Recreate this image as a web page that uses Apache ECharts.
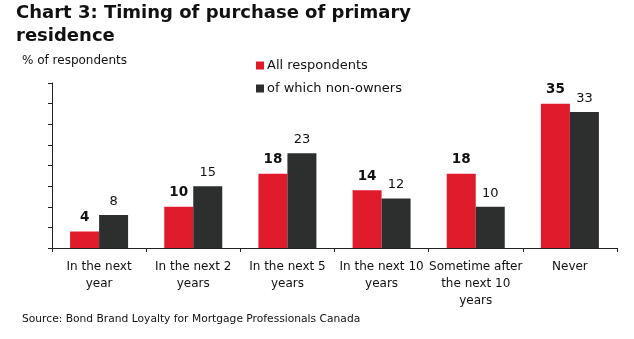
<!DOCTYPE html>
<html>
<head>
<meta charset="utf-8">
<script src="https://cdn.jsdelivr.net/npm/echarts@6/dist/echarts.min.js"></script>
<style>
html,body{margin:0;padding:0;background:#fff;}
#chart{width:634px;height:339px;}
</style>
</head>
<body>
<div id="chart"></div>
<script>
const categories = ["In the next\nyear", "In the next 2\nyears", "In the next 5\nyears", "In the next 10\nyears", "Sometime after\nthe next 10\nyears", "Never"];
const allRespondents = [4, 10, 18, 14, 18, 35];
const nonOwners = [8, 15, 23, 12, 10, 33];
const seriesNames = ["All respondents", "of which non-owners"];

const FONT = "DejaVu Sans";
const chart = echarts.init(document.getElementById('chart'), null, {renderer: 'canvas'});
chart.setOption({
  animation: false,
  backgroundColor: '#fff',
  title: {
    text: "Chart 3: Timing of purchase of primary\nresidence",
    left: 16, top: 2, padding: 0,
    textStyle: {fontFamily: FONT, fontWeight: 'bold', fontSize: 18, lineHeight: 23, color: '#111'}
  },
  legend: {
    orient: 'vertical',
    left: 256, top: 58,
    itemWidth: 8, itemHeight: 8, itemGap: 8,
    icon: 'rect',
    padding: 0,
    textStyle: {fontFamily: FONT, fontSize: 13, lineHeight: 15, color: '#111', padding: [0, 0, 0, -2]},
    data: seriesNames
  },
  graphic: [
    {type: 'text', left: 22, top: 55, style: {text: '% of respondents', font: '12px "DejaVu Sans"', fill: '#111'}},
    {type: 'text', left: 22, top: 314, style: {text: 'Source: Bond Brand Loyalty for Mortgage Professionals Canada', font: '10.7px "DejaVu Sans"', fill: '#111'}}
  ],
  grid: {left: 52, right: 17, top: 83, bottom: 91, containLabel: false},
  xAxis: {
    type: 'category',
    data: categories,
    axisLine: {lineStyle: {color: '#222', width: 1}},
    axisTick: {show: true, length: 4, lineStyle: {color: '#222'}},
    axisLabel: {fontFamily: FONT, fontSize: 12, lineHeight: 17, color: '#111', margin: 10, interval: 0}
  },
  yAxis: {
    type: 'value', min: 0, max: 40, interval: 5,
    axisLine: {show: true, lineStyle: {color: '#222', width: 1}},
    axisTick: {show: true, length: 4, lineStyle: {color: '#222'}},
    axisLabel: {show: false},
    splitLine: {show: false}
  },
  series: [
    {
      name: seriesNames[0], type: 'bar', data: allRespondents,
      barWidth: 29, barGap: '0%',
      itemStyle: {color: '#E01B2B'},
      label: {show: true, position: 'top', distance: 7, fontFamily: FONT, fontSize: 13.5, fontWeight: 'bold', color: '#111'}
    },
    {
      name: seriesNames[1], type: 'bar', data: nonOwners,
      barWidth: 29, barGap: '0%',
      itemStyle: {color: '#2D2E2E'},
      label: {show: true, position: 'top', distance: 7, fontFamily: FONT, fontSize: 13, color: '#111'}
    }
  ]
});
</script>
</body>
</html>
